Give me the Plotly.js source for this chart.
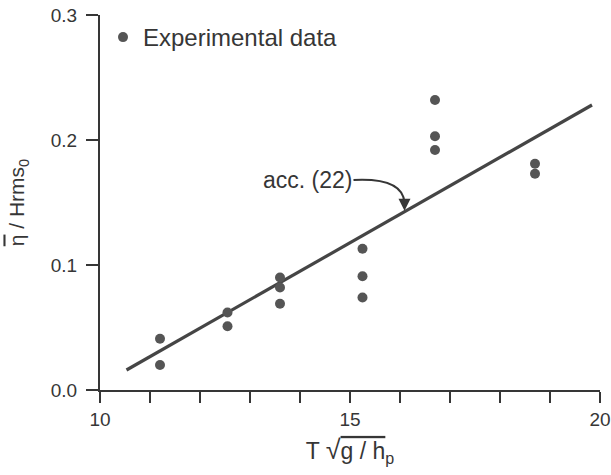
<!DOCTYPE html>
<html>
<head>
<meta charset="utf-8">
<script src="https://cdn.plot.ly/plotly-3.0.1.min.js"></script>
<style>html,body{margin:0;padding:0;background:#fff;}#chart{width:611px;height:475px;}</style>
</head>
<body>
<div id="chart"></div>
<script>
// Experimental data
const expX = [11.2, 11.2, 12.55, 12.55, 13.6, 13.6, 13.6, 15.25, 15.25, 15.25, 16.7, 16.7, 16.7, 18.7, 18.7];
const expY = [0.041, 0.020, 0.062, 0.051, 0.090, 0.082, 0.069, 0.113, 0.091, 0.074, 0.232, 0.203, 0.192, 0.181, 0.173];
// Line acc. (22)
const fitX = [10.53, 19.84];
const fitY = [0.016, 0.228];
// Tick labels
const xTickVals = [10, 15, 20];
const xTickText = ['10', '15', '20'];
const yTickVals = [0.0, 0.1, 0.2, 0.3];
const yTickText = ['0.0', '0.1', '0.2', '0.3'];
// Annotation label
const annText = 'acc. (22)';
const annCurve = {x0: 15.07, y0: 0.168, cx: 16.05, cy: 0.170, x1: 16.09, y1: 0.150};
const annTip = {x: 16.09, y: 0.1435};

const FONT = 'Liberation Sans, Arial, Helvetica, sans-serif';
const INK = '#363636';

const traces = [
  {
    x: fitX, y: fitY, type: 'scatter', mode: 'lines',
    line: {color: '#454545', width: 3.2}, showlegend: false, hoverinfo: 'skip'
  },
  {
    x: expX, y: expY, type: 'scatter', mode: 'markers', name: 'Experimental data',
    marker: {color: '#555555', size: 10}
  }
];

const layout = {
  width: 611, height: 475,
  margin: {l: 100, r: 11, t: 15, b: 85},
  paper_bgcolor: '#ffffff', plot_bgcolor: '#ffffff',
  font: {family: FONT, color: INK},
  showlegend: true,
  legend: {x: 0.006, y: 1.0, xanchor: 'left', yanchor: 'top',
           bgcolor: 'rgba(0,0,0,0)', font: {size: 24, family: FONT, color: INK}, borderwidth: 0},
  xaxis: {
    range: [10, 20], showgrid: false, zeroline: false,
    showline: true, linecolor: INK, linewidth: 2,
    ticks: 'outside', ticklen: 11, tickwidth: 1.5, tickcolor: INK,
    tickvals: xTickVals, ticktext: xTickText,
    minor: {dtick: 1, tick0: 10, ticks: 'outside', ticklen: 11, tickwidth: 1.5, tickcolor: INK, showgrid: false},
    tickfont: {size: 19, family: FONT, color: INK},
    title: {text: "T <span style='font-size:27px'>√</span><span style='text-decoration:overline'>g / h</span><sub>p</sub>",
            font: {size: 23, family: FONT, color: INK}, standoff: 14}
  },
  yaxis: {
    range: [0, 0.3], showgrid: false, zeroline: false,
    showline: true, linecolor: INK, linewidth: 2,
    ticks: 'outside', ticklen: 12, tickwidth: 1.5, tickcolor: INK,
    tickvals: yTickVals, ticktext: yTickText, ticklabelstandoff: 5,
    tickfont: {size: 19, family: FONT, color: INK},
    title: {text: "<span style='text-decoration:overline'>η</span> / Hrms<sub>0</sub>", font: {size: 21, family: FONT, color: INK}, standoff: 20}
  },
  shapes: [
    {type: 'path', xref: 'x', yref: 'y',
     path: 'M ' + annCurve.x0 + ',' + annCurve.y0 + ' Q ' + annCurve.cx + ',' + annCurve.cy + ' ' + annCurve.x1 + ',' + annCurve.y1,
     line: {color: INK, width: 2}}
  ],
  annotations: [
    {x: annCurve.x0, y: annCurve.y0, xref: 'x', yref: 'y', text: annText, showarrow: false,
     xanchor: 'right', yanchor: 'middle', xshift: 0, font: {size: 23, family: FONT, color: INK}},
    {x: annTip.x, y: annTip.y, xref: 'x', yref: 'y', text: '', showarrow: true,
     ax: 0, ay: -12, arrowhead: 2, arrowsize: 1.2, arrowwidth: 2, arrowcolor: INK}
  ]
};

Plotly.newPlot('chart', traces, layout, {displayModeBar: false, staticPlot: true});
</script>
</body>
</html>
